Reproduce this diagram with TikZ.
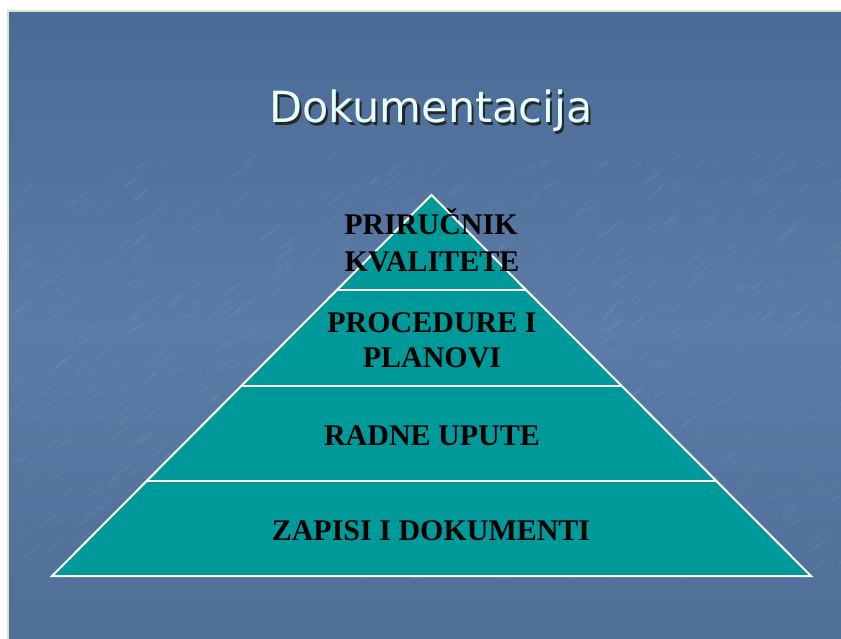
\documentclass[tikz,border=0pt]{standalone}
\usepackage{fontspec}
\setmainfont{Liberation Serif}
\newfontfamily\titlefont{DejaVu Sans}
\usetikzlibrary{calc}
\definecolor{bgtop}{HTML}{4A6B95}
\definecolor{bgmid}{HTML}{5B7BA6}
\definecolor{bgbot}{HTML}{4F6F99}
\definecolor{teal}{HTML}{009999}
\definecolor{edgepale}{HTML}{DDE2C4}
\definecolor{titlecol}{HTML}{E8FFFF}
\newcommand{\shadowtext}[1]{\rlap{\hspace{2.2pt}\raisebox{-2.5pt}[0pt][0pt]{\color{black!85}#1}}\color{titlecol}#1}
\tikzset{
  layertext/.style={font=\fontsize{30}{37}\selectfont\bfseries, text=black, anchor=base, inner sep=0pt},
  divider/.style={draw=white, line width=2pt},
}
\begin{document}
\begin{tikzpicture}[x=1pt,y=-1pt]
\useasboundingbox (0,0) rectangle (841,639);
\fill[white] (0,0) rectangle (841,639);
% slide background
\shade[top color=bgtop, bottom color=bgmid] (8,11) rectangle (841,330);
\shade[top color=bgmid, bottom color=bgbot] (8,330) rectangle (841,639);
% texture
\pgfmathsetseed{7}
\foreach \i in {1,...,700}{
  \pgfmathsetmacro{\xx}{8+rnd*833}
  \pgfmathsetmacro{\yy}{160+rnd*420}
  \pgfmathsetmacro{\ll}{4+rnd*14}
  \draw[white, opacity=0.045, line width=2pt, line cap=round] (\xx,\yy) -- ++(\ll,-0.8*\ll);
}
\draw[edgepale, line width=1.2pt] (8,639) -- (8,11) -- (841,11);
% title
\node[font=\titlefont\fontsize{43}{50}\selectfont, anchor=base, inner sep=0pt] (title) at (431,123) {\shadowtext{Dokumentacija}};
% pyramid
\coordinate (A) at (431.5,195);
\coordinate (L) at (52,576);
\coordinate (R) at (811,576);
\fill[teal] (A) -- (L) -- (R) -- cycle;
\foreach \f/\n in {0.25/a,0.5/b,0.75/c}{
  \coordinate (L\n) at ($(A)!\f!(L)$);
  \coordinate (R\n) at ($(A)!\f!(R)$);
  \draw[divider] (L\n) -- (R\n);
}
\draw[divider, line join=miter] (A) -- (L) -- (R) -- cycle;
% texts
\node[layertext] (t1a) at (431,235) {PRIRUČNIK};
\node[layertext] (t1b) at (432,272) {KVALITETE};
\node[layertext] (t2a) at (432,332) {PROCEDURE I};
\node[layertext] (t2b) at (432,367) {PLANOVI};
\node[layertext] (t3) at (432,445) {RADNE UPUTE};
\node[layertext] (t4) at (431,540) {ZAPISI I DOKUMENTI};
\end{tikzpicture}
\end{document}
